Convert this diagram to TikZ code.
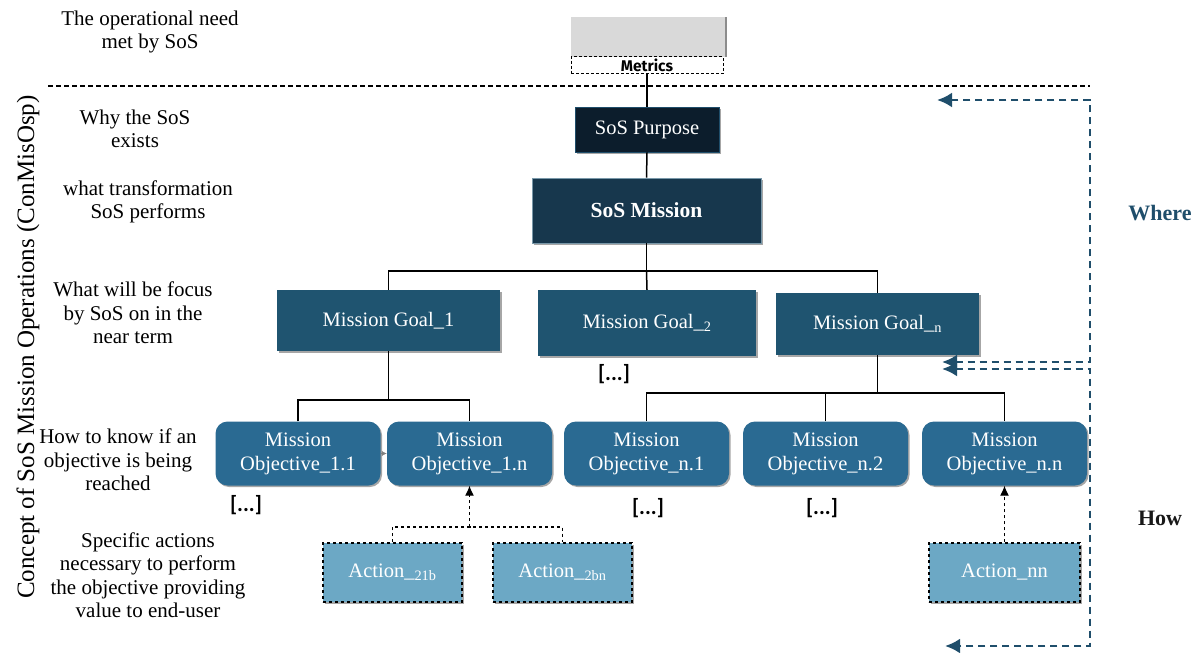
\documentclass[tikz,border=0pt]{standalone}
\usepackage{fontspec}
\setmainfont{Liberation Serif}
\newfontfamily\metricsfont{Fira Sans}
\newfontfamily\dotsfont{Carlito}
\usetikzlibrary{arrows.meta,shadows,calc}

\definecolor{purposefill}{HTML}{0C1D2C}
\definecolor{missionfill}{HTML}{17374D}
\definecolor{goalfill}{HTML}{1F5470}
\definecolor{objfill}{HTML}{2A6A92}
\definecolor{actfill}{HTML}{6CA8C5}
\definecolor{loopblue}{HTML}{1F4E6B}
\definecolor{metricgray}{HTML}{D9D9D9}

\tikzset{
  shade box/.style={drop shadow={shadow xshift=1.5pt,shadow yshift=-1.5pt,opacity=0.35,fill=black}},
  boxtext/.style={text=white,font=\fontsize{20.5}{24}\selectfont,align=center,inner sep=0pt},
  purposebox/.style={boxtext,fill=purposefill,draw=loopblue,line width=0.6pt,shade box},
  missionbox/.style={boxtext,fill=missionfill,draw=goalfill!60!white,line width=0.6pt,shade box,
    font=\fontsize{21.5}{24}\selectfont\bfseries},
  goalbox/.style={boxtext,fill=goalfill,shade box},
  objbox/.style={boxtext,fill=objfill,rounded corners=12pt,shade box,minimum width=165pt,minimum height=64pt},
  actbox/.style={boxtext,fill=actfill,draw=black,dashed,line width=1.2pt,shade box,minimum height=59pt},
  treeline/.style={draw=black,line width=1.5pt},
  loop/.style={draw=loopblue,line width=2.8pt,dash pattern=on 7pt off 5pt,
    {Latex[length=15pt,width=15pt]}-{Latex[length=15pt,width=15pt]}},
  sidenote/.style={align=center,font=\fontsize{21}{23.5}\selectfont,inner sep=0pt},
  ellip/.style={font=\dotsfont\fontsize{22}{22}\selectfont\bfseries,inner sep=0pt},
}

\begin{document}
\begin{tikzpicture}[x=1pt,y=-1pt]
\useasboundingbox (0,0) rectangle (1203,653);

% --- operational need ---
\node[fill=metricgray,minimum width=154pt,minimum height=40pt,inner sep=0pt,
      drop shadow={shadow xshift=2pt,shadow yshift=0pt,opacity=0.45,fill=black}] (metricsbox) at (648,36.5) {};
\node[draw=black,densely dashed,line width=0.8pt,minimum width=152pt,minimum height=17pt,inner sep=0pt,
      font=\metricsfont\fontsize{15.5}{16}\selectfont\bfseries] (metricslbl) at (647,65) {Metrics};

% separator
\coordinate (sepL) at (48,86);
\coordinate (sepR) at (1090,86);
\draw[black,line width=1.5pt,dash pattern=on 4.5pt off 3.5pt] (sepL) -- (sepR);

% --- hierarchy ---
\node[purposebox,minimum width=144pt,minimum height=45pt] (purpose) at (647,129.5) {SoS Purpose};
\node[missionbox,minimum width=229pt,minimum height=65pt] (mission) at (646.5,210.5) {SoS Mission};

\node[goalbox,minimum width=223pt,minimum height=61pt] (goal1) at (388.5,320.5) {Mission Goal\_1};
\node[goalbox,minimum width=218pt,minimum height=66pt] (goal2) at (647,323) {Mission Goal\_\textsubscript{2}};
\node[goalbox,minimum width=203pt,minimum height=62pt] (goaln) at (877.5,324) {Mission Goal\_\textsubscript{n}};

\node[objbox] (obj11) at (298,453.5) {Mission\\Objective\_1.1};
\node[objbox] (obj1n) at (469.5,453.5) {Mission\\Objective\_1.n};
\node[objbox] (objn1) at (646.5,453.5) {Mission\\Objective\_n.1};
\node[objbox] (objn2) at (825.5,453.5) {Mission\\Objective\_n.2};
\node[objbox] (objnn) at (1004.5,453.5) {Mission\\Objective\_n.n};

\node[actbox,minimum width=139pt] (act21b) at (392.5,572.5) {Action\_\textsubscript{21b}};
\node[actbox,minimum width=139pt] (act2bn) at (562.5,572.5) {Action\_\textsubscript{2bn}};
\node[actbox,minimum width=151pt] (actnn) at (1004.5,572.5) {Action\_nn};

% tree connectors
\draw[treeline] (metricslbl.south) -- (purpose.north);
\draw[treeline] (purpose.south) -- (mission.north);
\coordinate (mbar) at (646.5,271);
\draw[treeline] (mission.south) -- (mbar);
\draw[treeline] (goal1.north) |- (mbar) -| (goaln.north);
\draw[treeline] (mbar) -- (goal2.north);

\coordinate (g1bar) at (388.5,400);
\draw[treeline] (goal1.south) -- (g1bar);
\draw[treeline] (obj11.north) |- (g1bar) -| (obj1n.north);

\coordinate (gnbar) at (877.5,393);
\draw[treeline] (goaln.south) -- (gnbar);
\draw[treeline] (objn1.north) |- (gnbar) -| (objnn.north);
\draw[treeline] (objn2.north) -- (objn2.north |- gnbar);

\draw[draw=gray,line width=0.6pt,-{Latex[length=5pt,width=5pt]}] (obj11.east) -- (obj1n.west);

% action links
\coordinate (ajoin) at (469.5,527);
\draw[black,line width=1.2pt,dashed] (act21b.north) |- (ajoin) -| (act2bn.north);
\draw[black,line width=1.2pt,dashed,-{Latex[length=10pt,width=9pt]}] (ajoin) -- (obj1n.south);
\draw[black,line width=1.2pt,dashed,-{Latex[length=10pt,width=9pt]}] (actnn.north) -- (objnn.south);

% ellipses
\node[ellip] (dotsA) at (614,374) {[...]};
\node[ellip] (dotsB) at (246,505) {[...]};
\node[ellip] (dotsC) at (648,508) {[...]};
\node[ellip] (dotsD) at (822,508) {[...]};

% where / how loops
\coordinate (wTop) at (937,100);
\coordinate (wBot) at (942,362);
\coordinate (hTop) at (942,369);
\coordinate (hBot) at (945,646);
\draw[loop] (wBot) -- (1090,362) -- (1090,100) -- (wTop);
\draw[loop] (hTop) -- (1090,369) -- (1090,646) -- (hBot);

\node[font=\fontsize{22}{24}\selectfont\bfseries,text=loopblue] (where) at (1160,213) {Where};
\node[font=\fontsize{22}{24}\selectfont\bfseries,text=black!90] (how) at (1160,518) {How};

% level descriptions
\node[sidenote] (n0) at (150,32) {The operational need\\met by SoS};
\node[sidenote] (n1) at (135,129) {Why the SoS\\exists};
\node[sidenote] (n2) at (148,202) {what transformation\\SoS performs};
\node[sidenote] (n3) at (133,313) {What will be focus\\by SoS on in the\\near term};
\node[sidenote] (n4) at (118,460) {How to know if an\\objective is being\\reached};
\node[sidenote] (n5) at (148,575) {Specific actions\\necessary to perform\\the objective providing\\value to end-user};

\node[rotate=90,font=\fontsize{25}{27}\selectfont,inner sep=0pt] (title) at (28,347)
  {Concept of SoS Mission Operations (ConMisOsp)};
\end{tikzpicture}
\end{document}
